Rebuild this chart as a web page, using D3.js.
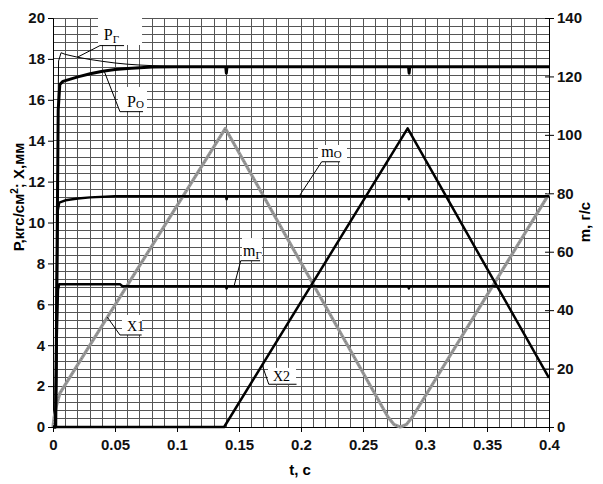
<!DOCTYPE html>
<html>
<head>
<meta charset="utf-8">
<script src="https://cdn.jsdelivr.net/npm/d3@7"></script>
<style>
	body { margin: 0; background: #fff; }
	text { font-family: "Liberation Sans", Arial, sans-serif; }
	.lbl { font-family: "Liberation Serif", "Times New Roman", serif; }
</style>
</head>
<body>
<svg id="chart" width="603" height="484"></svg>
<script>
// time axis, s
const tTicks	= [0, 0.05, 0.1, 0.15, 0.2, 0.25, 0.3, 0.35, 0.4];
const pTicks	= [0, 2, 4, 6, 8, 10, 12, 14, 16, 18, 20];
const mTicks	= [0, 20, 40, 60, 80, 100, 120, 140];

// pressures, kgf/cm2 (left axis)
const pG	= [[0, 0], [0.0025, 0], [0.0035, 12], [0.0045, 17.9], [0.0065, 18.3], [0.01, 18.22], [0.02, 18.08], [0.03, 17.97], [0.04, 17.88], [0.05, 17.8], [0.06, 17.74], [0.07, 17.7], [0.08, 17.67], [0.09, 17.65], [0.1, 17.63], [0.4, 17.62]];
const pO	= [[0, 0], [0.0022, 0], [0.0032, 8], [0.0042, 15.5], [0.0055, 16.75], [0.008, 16.9], [0.02, 17.12], [0.03, 17.27], [0.04, 17.4], [0.05, 17.48], [0.06, 17.53], [0.07, 17.57], [0.08, 17.6], [0.1, 17.62], [0.1393, 17.62], [0.1398, 17.3], [0.1403, 17.62], [0.2867, 17.62], [0.2872, 17.3], [0.2877, 17.62], [0.4, 17.62]];

// displacements, mm (left axis)
const x1	= [[0, 0], [0.001, 0.5], [0.003, 1.1], [0.0056, 1.66], [0.139, 14.6], [0.27, 0.5], [0.275, 0.12], [0.28, 0], [0.285, 0.12], [0.29, 0.5], [0.4, 11.4]];
const x2	= [[0, 0], [0.138, 0], [0.286, 14.6], [0.4, 2.4]];

// mass flows, g/s (right axis)
const mO	= [[0, 0], [0.002, 0], [0.003, 45], [0.0038, 74], [0.005, 76.8], [0.01, 77.6], [0.02, 78.2], [0.03, 78.6], [0.05, 79], [0.1395, 79], [0.14, 78], [0.1405, 79], [0.2865, 79], [0.287, 78], [0.2875, 79], [0.4, 79]];
const mG	= [[0, 0], [0.002, 0], [0.003, 30], [0.004, 47], [0.005, 48.9], [0.054, 48.9], [0.056, 48.2], [0.1395, 48.2], [0.14, 47.4], [0.1405, 48.2], [0.2865, 48.2], [0.287, 47.4], [0.2875, 48.2], [0.4, 48.2]];

// callouts: text, subscript, leader (curve point, elbow, end) and white box, in left-axis units
const notes = [
	{ name: 'P', sub: 'Г', at: [0.041, 18.92], lead: [[0.0196, 18.08], [0.0379, 18.65], [0.0573, 18.65]], box: [0.0363, 0.0718, 18.68, 20.1], size: 16 },
	{ name: 'P', sub: 'O', at: [0.0597, 15.67], lead: [[0.0411, 17.43], [0.054, 15.42], [0.0726, 15.42]], box: [0.0524, 0.0758, 15.45, 16.63], size: 16 },
	{ name: 'm', sub: 'O', at: [0.2163, 13.2], lead: [[0.1986, 11.29], [0.2167, 12.97], [0.2315, 12.97]], box: [0.2137, 0.2371, 12.96, 13.79], size: 16 },
	{ name: 'm', sub: 'Г', at: [0.1532, 8.35], lead: [[0.146, 6.89], [0.1514, 8.13], [0.167, 8.13]], box: [0.1524, 0.1685, 8.12, 9.24], size: 16 },
	{ name: 'X1', sub: '', at: [0.0597, 4.7], lead: [[0.0438, 5.37], [0.054, 4.5], [0.0715, 4.5]], box: [0.0556, 0.0718, 4.5, 5.48], size: 14 },
	{ name: 'X2', sub: '', at: [0.1774, 2.25], lead: [[0.1687, 3.03], [0.174, 2.09], [0.1964, 2.09]], box: [0.1734, 0.196, 2.05, 2.89], size: 14 }
];

let svg		= d3.select('#chart');
let padL	= 53, padR = 549, padT = 18, padB = 427;

let x	= d3.scaleLinear().domain([0, 0.4]).range([padL, padR]);
let yP	= d3.scaleLinear().domain([0, 20]).range([padB, padT]);
let yM	= d3.scaleLinear().domain([0, 140]).range([padB, padT]);

// grid: every 0.01 s and every 0.4 units of left axis
let grid = svg.append('g').attr('shape-rendering', 'crispEdges').attr('stroke', '#555').attr('stroke-width', 1);
grid.selectAll('line.v').data(d3.range(0, 41)).join('line').attr('class', 'v')
	.attr('x1', (d) => x(d / 100)).attr('x2', (d) => x(d / 100)).attr('y1', padT).attr('y2', padB);
grid.selectAll('line.h').data(d3.range(0, 51)).join('line').attr('class', 'h')
	.attr('x1', padL).attr('x2', padR).attr('y1', (d) => yP(d * 0.4)).attr('y2', (d) => yP(d * 0.4));

// white boxes behind callouts
svg.append('g').selectAll('rect').data(notes).join('rect')
	.attr('x', (d) => x(d.box[0])).attr('y', (d) => yP(d.box[3]))
	.attr('width', (d) => x(d.box[1]) - x(d.box[0])).attr('height', (d) => yP(d.box[2]) - yP(d.box[3]))
	.style('fill', '#fff');

// axes
let axL = svg.append('g').attr('transform', 'translate(' + padL + ',0)')
	.call(d3.axisLeft(yP).tickValues(pTicks).tickSize(5).tickPadding(3).tickFormat(d3.format('d')));
let axR = svg.append('g').attr('transform', 'translate(' + padR + ',0)')
	.call(d3.axisRight(yM).tickValues(mTicks).tickSize(5).tickPadding(3).tickFormat(d3.format('d')));
let axB = svg.append('g').attr('transform', 'translate(0,' + padB + ')')
	.call(d3.axisBottom(x).tickValues(tTicks).tickSize(5).tickPadding(7).tickFormat((d) => d === 0 ? '0' : String(+d.toFixed(2))));
[axL, axR, axB].forEach((a) => {
	a.selectAll('path.domain').attr('stroke', '#000');
	a.selectAll('text').style('font-size', '15px').style('font-weight', 'bold').attr('fill', '#111').style('font-family', '"Liberation Sans", Arial, sans-serif');
	a.selectAll('line').attr('stroke', '#000');
});
axR.selectAll('.tick line').attr('x1', -4);

// axis titles
let tl = svg.append('text').attr('transform', 'translate(24,197) rotate(-90)').attr('text-anchor', 'middle')
	.style('font-size', '15px').style('font-weight', 'bold');
tl.append('tspan').text('Р,кгс/см');
tl.append('tspan').attr('dy', -6).style('font-size', '10px').text('2');
tl.append('tspan').attr('dy', 6).text('; Х,мм');
svg.append('text').attr('transform', 'translate(590,222) rotate(-90)').attr('text-anchor', 'middle')
	.style('font-size', '15px').style('font-weight', 'bold').text('m, г/с');
svg.append('text').attr('x', 300).attr('y', 475).attr('text-anchor', 'middle')
	.style('font-size', '15px').style('font-weight', 'bold').text('t, c');

// curves
let lineP = d3.line().x((d) => x(d[0])).y((d) => yP(d[1]));
let lineM = d3.line().x((d) => x(d[0])).y((d) => yM(d[1]));
let curves = svg.append('g').style('fill', 'none').attr('stroke-linejoin', 'round');

curves.append('path').attr('d', lineP(x1)).attr('stroke', '#999').attr('stroke-width', 3.2);
curves.append('path').attr('d', lineP(x1)).attr('stroke', '#707070').attr('stroke-width', 1).attr('stroke-dasharray', '1,2');
curves.append('path').attr('d', lineP(x2)).attr('stroke', '#000').attr('stroke-width', 2.5);
curves.append('path').attr('d', lineM(mG)).attr('stroke', '#000').attr('stroke-width', 2.5);
curves.append('path').attr('d', lineM(mO)).attr('stroke', '#000').attr('stroke-width', 2.5);
curves.append('path').attr('d', lineP(pG)).attr('stroke', '#000').attr('stroke-width', 1);
curves.append('path').attr('d', lineP(pO)).attr('stroke', '#000').attr('stroke-width', 3);

// callouts
let lab = svg.append('g');
lab.selectAll('path').data(notes).join('path')
	.attr('d', (d) => lineP(d.lead)).style('fill', 'none').attr('stroke', '#000').attr('stroke-width', 1);
lab.selectAll('text').data(notes).join('text').attr('class', 'lbl')
	.attr('x', (d) => x(d.at[0])).attr('y', (d) => yP(d.at[1]))
	.style('font-size', (d) => d.size + 'px')
	.each(function (d) {
		let t = d3.select(this);
		t.append('tspan').text(d.name);
		if (d.sub) t.append('tspan').attr('dy', d.sub === 'Г' ? 3 : 1).style('font-size', '11px').text(d.sub);
	});
</script>
</body>
</html>
